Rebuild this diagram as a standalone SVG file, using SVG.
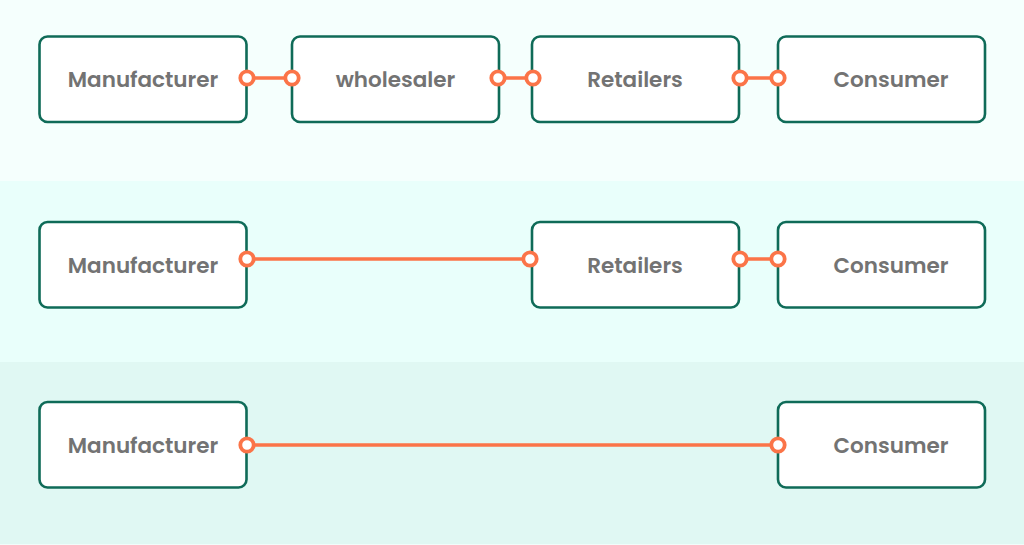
<svg xmlns="http://www.w3.org/2000/svg" width="1024" height="545" viewBox="0 0 1024 545">
<style>
.b{fill:#fff;stroke:#0f6b58;stroke-width:2.6}
.t{font-family:Poppins,"Liberation Sans",Arial,sans-serif;font-size:21.500px;font-weight:600;fill:#737373;text-anchor:middle}
.l{stroke:#fb7448;stroke-width:3.500;fill:none}
.d{fill:#fff;stroke:#fb7448;stroke-width:3.800}
</style>
<rect width="1024" height="181" fill="#f5fffd"/>
<rect y="181" width="1024" height="181" fill="#e9fffb"/>
<rect y="362" width="1024" height="182" fill="#e0f8f3"/>
<rect y="544" width="1024" height="1" fill="#f2fcfa"/>
<g id="connectors">
<path class="l" d="M247 78H292M498 78H533M740 78H778M247 259H530M740 259H778M247 445H778"/>
</g>
<g id="r1-manufacturer"><rect class="b" x="39.500" y="36.500" width="207" height="85.500" rx="8"/><text class="t" x="143" y="86.500">Manufacturer</text></g>
<g id="r1-wholesaler"><rect class="b" x="292" y="36.500" width="207" height="85.500" rx="8"/><text class="t" x="395.500" y="86.500">wholesaler</text></g>
<g id="r1-retailers"><rect class="b" x="532" y="36.500" width="207" height="85.500" rx="8"/><text class="t" x="635" y="86.500">Retailers</text></g>
<g id="r1-consumer"><rect class="b" x="778" y="36.500" width="207" height="85.500" rx="8"/><text class="t" x="891" y="86.500">Consumer</text></g>
<g id="r2-manufacturer"><rect class="b" x="39.500" y="222" width="207" height="85.500" rx="8"/><text class="t" x="143" y="272.500">Manufacturer</text></g>
<g id="r2-retailers"><rect class="b" x="532" y="222" width="207" height="85.500" rx="8"/><text class="t" x="635" y="272.500">Retailers</text></g>
<g id="r2-consumer"><rect class="b" x="778" y="222" width="207" height="85.500" rx="8"/><text class="t" x="891" y="272.500">Consumer</text></g>
<g id="r3-manufacturer"><rect class="b" x="39.500" y="402" width="207" height="85.500" rx="8"/><text class="t" x="143" y="452.500">Manufacturer</text></g>
<g id="r3-consumer"><rect class="b" x="778" y="402" width="207" height="85.500" rx="8"/><text class="t" x="891" y="452.500">Consumer</text></g>
<g id="ports">
<circle class="d" cx="247" cy="78" r="6.700"/><circle class="d" cx="292" cy="78" r="6.700"/><circle class="d" cx="498" cy="78" r="6.700"/><circle class="d" cx="533" cy="78" r="6.700"/><circle class="d" cx="740" cy="78" r="6.700"/><circle class="d" cx="778" cy="78" r="6.700"/>
<circle class="d" cx="247" cy="259" r="6.700"/><circle class="d" cx="530" cy="259" r="6.700"/><circle class="d" cx="740" cy="259" r="6.700"/><circle class="d" cx="778" cy="259" r="6.700"/>
<circle class="d" cx="247" cy="445" r="6.700"/><circle class="d" cx="778" cy="445" r="6.700"/>
</g>
</svg>
